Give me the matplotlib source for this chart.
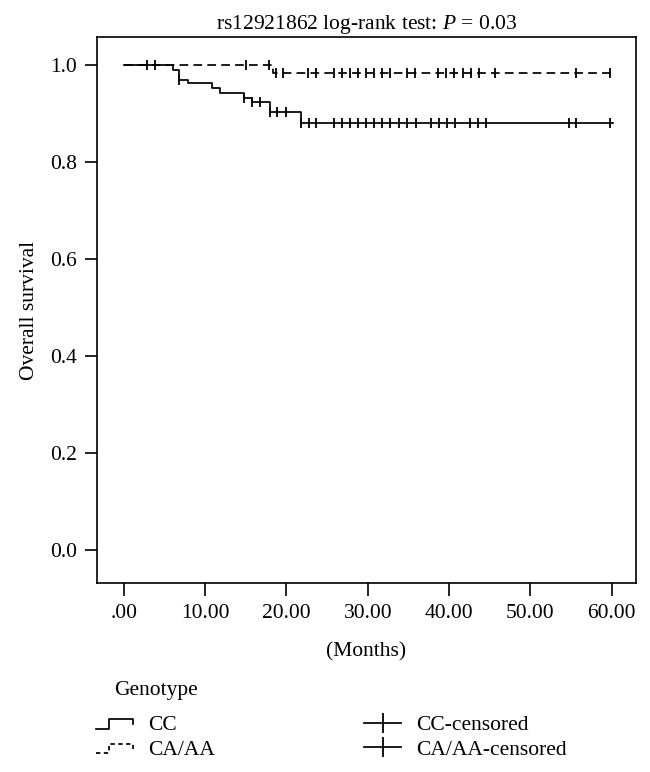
import matplotlib
matplotlib.use("Agg")
import matplotlib.pyplot as plt
import numpy as np
from matplotlib.lines import Line2D
from matplotlib.legend_handler import HandlerBase

plt.rcParams['font.family'] = ['Liberation Serif', 'DejaVu Serif']
plt.rcParams['mathtext.fontset'] = 'custom'
plt.rcParams['mathtext.rm'] = 'Liberation Serif'
plt.rcParams['mathtext.it'] = 'Liberation Serif:italic'

# ---- data ----
cc_times = [0, 6.0, 6.8, 7.9, 10.8, 11.8, 14.8, 15.8, 18.0, 21.8]
cc_surv = [1.0, 0.990, 0.970, 0.964, 0.952, 0.942, 0.933, 0.924, 0.904, 0.881]
cc_end = 60.2
cc_censored = [2.9, 3.8, 6.8, 14.8, 15.8, 16.8, 18.0, 18.9, 19.9, 21.8, 22.8, 23.7,
               25.8, 26.8, 27.8, 28.8, 29.8, 30.8, 31.8, 32.8, 33.8, 34.8, 35.9,
               37.8, 38.8, 39.8, 40.7, 42.6, 43.6, 44.5, 54.7, 55.6, 59.8]

ca_times = [0, 18.3]
ca_surv = [1.0, 0.983]
ca_end = 60.2
ca_censored = [15.0, 17.9, 18.7, 19.6, 22.6, 23.7, 25.8, 26.8, 27.8, 28.8, 29.8,
               30.8, 31.8, 32.8, 34.8, 35.8, 38.7, 39.6, 40.6, 41.7, 42.7, 43.7,
               45.7, 55.6, 59.8]

xticks = [0, 10, 20, 30, 40, 50, 60]
xtick_labels = ['.00', '10.00', '20.00', '30.00', '40.00', '50.00', '60.00']
yticks = [0.0, 0.2, 0.4, 0.6, 0.8, 1.0]
ytick_labels = ['0.0', '0.2', '0.4', '0.6', '0.8', '1.0']

title = 'rs12921862 log-rank test: $P$ = 0.03'
legend_title = 'Genotype'
labels = ['CC', 'CA/AA', 'CC-censored', 'CA/AA-censored']

FS = 15.5
LW = 1.25
DASH = (5.0, 3.0)

fig = plt.figure(figsize=(6.5, 7.72), dpi=100)
ax = fig.add_axes([0.1488, 0.2448, 0.9785 - 0.1488, 0.952 - 0.2448])


def surv_at(times, surv, t):
    idx = np.searchsorted(times, t, side='right') - 1
    return np.asarray(surv)[idx]


def step_xy(times, surv, end):
    x = list(times) + [end]
    y = list(surv) + [surv[-1]]
    return x, y


# CA/AA (dashed) first so CC overlays it
x, y = step_xy(ca_times, ca_surv, ca_end)
ax.step(x, y, where='post', color='black', lw=LW, linestyle=(0, DASH))
ax.plot(ca_censored, surv_at(ca_times, ca_surv, ca_censored), linestyle='none',
        marker='|', markersize=7, markeredgewidth=1.3, color='black')

x, y = step_xy(cc_times, cc_surv, cc_end)
ax.step(x, y, where='post', color='black', lw=LW, linestyle='-')
ax.plot(cc_censored, surv_at(cc_times, cc_surv, cc_censored), linestyle='none',
        marker='|', markersize=7, markeredgewidth=1.3, color='black')

ax.set_xlim(-3.33, 63.0)
ax.set_ylim(-0.068, 1.058)
ax.set_xticks(xticks)
ax.set_xticklabels(xtick_labels)
ax.set_yticks(yticks)
ax.set_yticklabels(ytick_labels)
ax.tick_params(direction='out', length=9, width=1.2, labelsize=FS, pad=5)
ax.tick_params(axis='x', pad=6)
for s in ax.spines.values():
    s.set_linewidth(1.2)
ax.set_xlabel('(Months)', fontsize=FS, labelpad=14)
ax.set_ylabel('Overall survival', fontsize=FS, labelpad=8)
ax.set_title(title, fontsize=FS, pad=6)


class StepHandler(HandlerBase):
    def __init__(self, ls):
        super().__init__()
        self.ls = ls

    def create_artists(self, legend, orig_handle, xdescent, ydescent, width,
                       height, fontsize, trans):
        x0 = -xdescent
        y0 = -ydescent
        xs = [x0, x0 + 0.35 * width, x0 + 0.35 * width, x0 + width, x0 + width]
        ys = [y0 + 0.1 * height, y0 + 0.1 * height, y0 + 0.75 * height,
              y0 + 0.75 * height, y0 + 0.4 * height]
        ln = Line2D(xs, ys, color='black', lw=LW, linestyle=self.ls, transform=trans)
        return [ln]


h_cc = Line2D([], [], color='black')
h_ca = Line2D([], [], color='black', linestyle='--')
h_ccc = Line2D([], [], color='black', lw=LW, marker='|', markersize=14, markeredgewidth=1.3)
h_cac = Line2D([], [], color='black', lw=LW, marker='|', markersize=14, markeredgewidth=1.3)

fig.text(114 / 650, 1 - 690 / 772, legend_title, fontsize=FS, ha='left', va='center')
leg = fig.legend([h_cc, h_ca, h_ccc, h_cac], labels, ncol=2, frameon=False,
                 loc='upper left', bbox_to_anchor=(0.148, 1 - 715 / 772),
                 fontsize=FS, handlelength=1.7, handletextpad=0.7,
                 columnspacing=6.95, labelspacing=0.22, borderaxespad=0.0,
                 borderpad=0.0,
                 handler_map={h_cc: StepHandler('-'), h_ca: StepHandler((0, (2.5, 2.0)))})

fig.savefig('out.png', dpi=100)
